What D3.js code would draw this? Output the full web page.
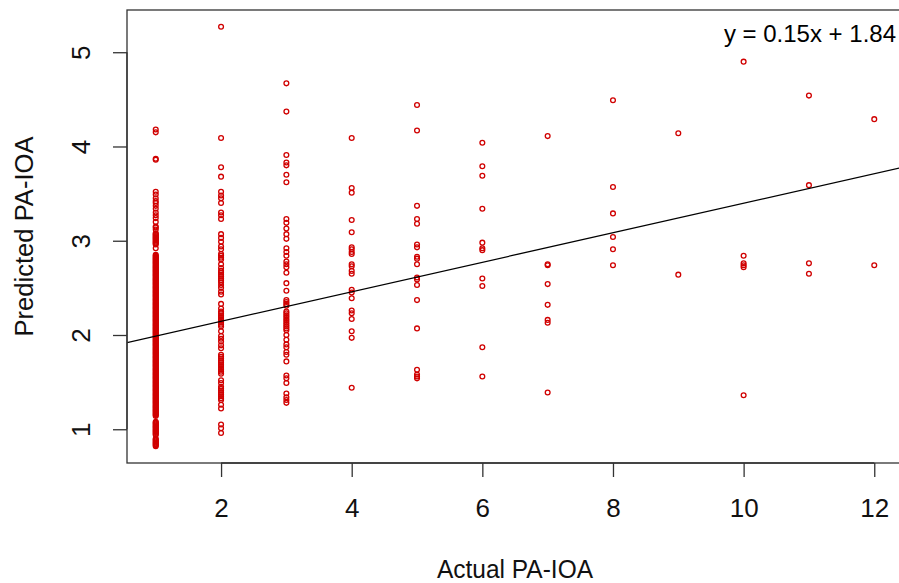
<!DOCTYPE html>
<html>
<head>
<meta charset="utf-8">
<script src="https://cdn.jsdelivr.net/npm/d3@7/dist/d3.min.js"></script>
<style>
  html, body { margin: 0; padding: 0; background: #fff; }
  svg { display: block; font-family: "Liberation Sans", Arial, sans-serif; }
</style>
</head>
<body>
<svg id="chart"></svg>
<script>
const xLevels = [1, 2, 3, 4, 5, 6, 7, 8, 9, 10, 11, 12]

// predicted values
// (column 1 is a solid run of overlapping markers, listed densely)
const predAt1 = [
  0.82, 0.83, 0.84, 0.85, 0.86, 0.87, 0.88, 0.89, 0.90,
  0.94, 0.95, 0.96, 0.97, 0.98, 0.99, 1.00, 1.01, 1.02, 1.03, 1.04, 1.05, 1.06, 1.07, 1.08,
  1.14, 1.15, 1.16, 1.17, 1.18, 1.19, 1.20,
  1.21, 1.22, 1.23, 1.24, 1.25, 1.26, 1.27, 1.28, 1.29, 1.30,
  1.31, 1.32, 1.33, 1.34, 1.35, 1.36, 1.37, 1.38, 1.39, 1.40,
  1.41, 1.42, 1.43, 1.44, 1.45, 1.46, 1.47, 1.48, 1.49, 1.50,
  1.51, 1.52, 1.53, 1.54, 1.55, 1.56, 1.57, 1.58, 1.59, 1.60,
  1.61, 1.62, 1.63, 1.64, 1.65, 1.66, 1.67, 1.68, 1.69, 1.70,
  1.71, 1.72, 1.73, 1.74, 1.75, 1.76, 1.77, 1.78, 1.79, 1.80,
  1.81, 1.82, 1.83, 1.84, 1.85, 1.86, 1.87, 1.88, 1.89, 1.90,
  1.91, 1.92, 1.93, 1.94, 1.95, 1.96, 1.97, 1.98, 1.99, 2.00,
  2.01, 2.02, 2.03, 2.04, 2.05, 2.06, 2.07, 2.08, 2.09, 2.10,
  2.11, 2.12, 2.13, 2.14, 2.15, 2.16, 2.17, 2.18, 2.19, 2.20,
  2.21, 2.22, 2.23, 2.24, 2.25, 2.26, 2.27, 2.28, 2.29, 2.30,
  2.31, 2.32, 2.33, 2.34, 2.35, 2.36, 2.37, 2.38, 2.39, 2.40,
  2.41, 2.42, 2.43, 2.44, 2.45, 2.46, 2.47, 2.48, 2.49, 2.50,
  2.51, 2.52, 2.53, 2.54, 2.55, 2.56, 2.57, 2.58, 2.59, 2.60,
  2.61, 2.62, 2.63, 2.64, 2.65, 2.66, 2.67, 2.68, 2.69, 2.70,
  2.71, 2.72, 2.73, 2.74, 2.75, 2.76, 2.77, 2.78, 2.79, 2.80,
  2.81, 2.82, 2.83, 2.84, 2.85,
  2.92, 2.96, 2.97, 2.98, 2.99, 3.00, 3.01, 3.02, 3.03, 3.04, 3.05, 3.06, 3.07, 3.08,
  3.12, 3.14, 3.15, 3.20, 3.24, 3.27, 3.30, 3.34, 3.37, 3.40, 3.42, 3.45,
  3.49, 3.52, 3.86, 3.87, 4.15, 4.18,
]
const predAt2 = [
  5.27, 4.09, 3.78, 3.68, 3.52, 3.48, 3.45, 3.40, 3.30, 3.27, 3.23, 3.07, 3.03,
  2.99, 2.94, 2.91, 2.86, 2.84, 2.82, 2.80, 2.75, 2.71, 2.68, 2.66, 2.64, 2.62,
  2.60, 2.58, 2.56, 2.53, 2.50, 2.46, 2.43, 2.33, 2.28, 2.25, 2.23, 2.21, 2.19,
  2.17, 2.15, 2.13, 2.11, 2.09, 2.04, 1.99, 1.96, 1.93, 1.89, 1.86, 1.79, 1.77,
  1.75, 1.73, 1.71, 1.69, 1.67, 1.65, 1.63, 1.61, 1.59, 1.52, 1.49, 1.45, 1.43,
  1.41, 1.39, 1.37, 1.35, 1.33, 1.31, 1.26, 1.22, 1.05, 1.01, 0.96,
]
const predAt3 = [
  4.67, 4.37, 3.91, 3.83, 3.80, 3.70, 3.62, 3.23, 3.19, 3.13, 3.07, 3.02, 2.92,
  2.88, 2.84, 2.78, 2.75, 2.72, 2.66, 2.55, 2.47, 2.37, 2.35, 2.33, 2.31, 2.25,
  2.23, 2.21, 2.19, 2.17, 2.15, 2.13, 2.11, 2.09, 2.07, 2.05, 2.00, 1.95, 1.90,
  1.87, 1.82, 1.79, 1.72, 1.57, 1.54, 1.49, 1.38, 1.34, 1.31, 1.28,
]
const predAt4 = [
  4.09, 3.56, 3.51, 3.22, 3.09, 2.93, 2.91, 2.88, 2.86, 2.75, 2.73, 2.68, 2.65,
  2.48, 2.45, 2.39, 2.26, 2.23, 2.17, 2.04, 1.97, 1.44,
]
const predAt5 = [
  4.44, 4.17, 3.37, 3.23, 3.18, 2.96, 2.93, 2.83, 2.81, 2.75, 2.61, 2.59, 2.53,
  2.37, 2.07, 1.63, 1.58, 1.56, 1.54,
]
const predAt6 = [4.04, 3.79, 3.69, 3.34, 2.98, 2.92, 2.90, 2.60, 2.52, 1.87, 1.56]
const predAt7 = [4.11, 2.75, 2.74, 2.54, 2.32, 2.16, 2.13, 1.39]
const predAt8 = [4.49, 3.57, 3.29, 3.04, 2.91, 2.74]
const predAt9 = [4.14, 2.64]
const predAt10 = [4.90, 2.84, 2.76, 2.74, 2.72, 1.36]
const predAt11 = [4.54, 3.59, 2.76, 2.65]
const predAt12 = [4.29, 2.74]

const xTicks = [2, 4, 6, 8, 10, 12]
const yTicks = [1, 2, 3, 4, 5]

// least-squares line [intercept, slope] and its printed label
const fitCoef = [1.832, 0.1566]
const fitLabel = "y = 0.15x + 1.84"

const xTitle = "Actual PA-IOA"
const yTitle = "Predicted PA-IOA"

const columns = [
  predAt1, predAt2, predAt3, predAt4, predAt5, predAt6,
  predAt7, predAt8, predAt9, predAt10, predAt11, predAt12,
]
const points = columns.flatMap((vals, i) => vals.map((v) => ({x: xLevels[i], y: v})))

const width = 899
const height = 583
const m = {top: 10, right: -4, bottom: 120, left: 127}
const iw = width - m.left - m.right
const ih = height - m.top - m.bottom

const svg = d3.select("#chart").attr("width", width).attr("height", height)

// R-style 4% padding around the data range
const xExt = d3.extent(points, (d) => d.x)
const yExt = d3.extent(points, (d) => d.y)
const xPad = (xExt[1] - xExt[0]) * 0.04
const yPad = (yExt[1] - yExt[0]) * 0.04

const x = d3.scaleLinear().domain([xExt[0] - xPad, xExt[1] + xPad]).range([0, iw])
const y = d3.scaleLinear().domain([yExt[0] - yPad, yExt[1] + yPad]).range([ih, 0])

const g = svg.append("g").attr("transform", `translate(${m.left},${m.top})`)

g.append("defs")
  .append("clipPath")
  .attr("id", "plotClip")
  .append("rect")
  .attr("width", iw)
  .attr("height", ih)

g.append("g")
  .selectAll("circle")
  .data(points)
  .join("circle")
  .attr("cx", (d) => x(d.x))
  .attr("cy", (d) => y(d.y))
  .attr("r", 2.4)
  .attr("fill", "none")
  .attr("stroke", "#d00000")
  .attr("stroke-width", 1.3)

const [x0, x1] = x.domain()
g.append("line")
  .attr("clip-path", "url(#plotClip)")
  .attr("x1", x(x0))
  .attr("y1", y(fitCoef[0] + fitCoef[1] * x0))
  .attr("x2", x(x1))
  .attr("y2", y(fitCoef[0] + fitCoef[1] * x1))
  .attr("stroke", "#000")
  .attr("stroke-width", 1.2)

g.append("rect")
  .attr("width", iw)
  .attr("height", ih)
  .attr("fill", "none")
  .attr("stroke", "#333")
  .attr("stroke-width", 1.3)

const styleAxis = (gg) => {
  gg.select(".domain").attr("stroke", "#333").attr("stroke-width", 1.3)
  gg.selectAll(".tick line").attr("stroke", "#333").attr("stroke-width", 1.3)
  gg.selectAll("text").attr("font-size", 26).attr("fill", "#111").attr("font-family", null)
}

const xAxis = g.append("g")
  .attr("transform", `translate(0,${ih})`)
  .call(d3.axisBottom(x).tickValues(xTicks).tickFormat(d3.format("d")).tickSize(14).tickSizeOuter(0).tickPadding(22))
  .call(styleAxis)
xAxis.select(".domain").attr("d", `M${x(xTicks[0])},0H${x(xTicks[xTicks.length - 1])}`)

const yAxis = g.append("g")
  .call(d3.axisLeft(y).tickValues(yTicks).tickFormat(d3.format("d")).tickSize(14).tickSizeOuter(0))
  .call(styleAxis)
yAxis.select(".domain").attr("d", `M0,${y(yTicks[0])}V${y(yTicks[yTicks.length - 1])}`)
yAxis.selectAll(".tick text")
  .attr("x", null)
  .attr("dy", null)
  .attr("text-anchor", "middle")
  .attr("transform", "translate(-37,0) rotate(-90)")

g.append("text")
  .attr("x", 769)
  .attr("y", 32)
  .attr("text-anchor", "end")
  .attr("font-size", 24)
  .attr("fill", "#000")
  .text(fitLabel)

svg.append("text")
  .attr("x", m.left + iw / 2)
  .attr("y", 578)
  .attr("text-anchor", "middle")
  .attr("font-size", 26)
  .attr("fill", "#111")
  .attr("textLength", 156)
  .attr("lengthAdjust", "spacingAndGlyphs")
  .text(xTitle)

svg.append("text")
  .attr("transform", `translate(33,${m.top + ih / 2}) rotate(-90)`)
  .attr("text-anchor", "middle")
  .attr("font-size", 26)
  .attr("fill", "#111")
  .attr("textLength", 200)
  .attr("lengthAdjust", "spacingAndGlyphs")
  .text(yTitle)
</script>
</body>
</html>
